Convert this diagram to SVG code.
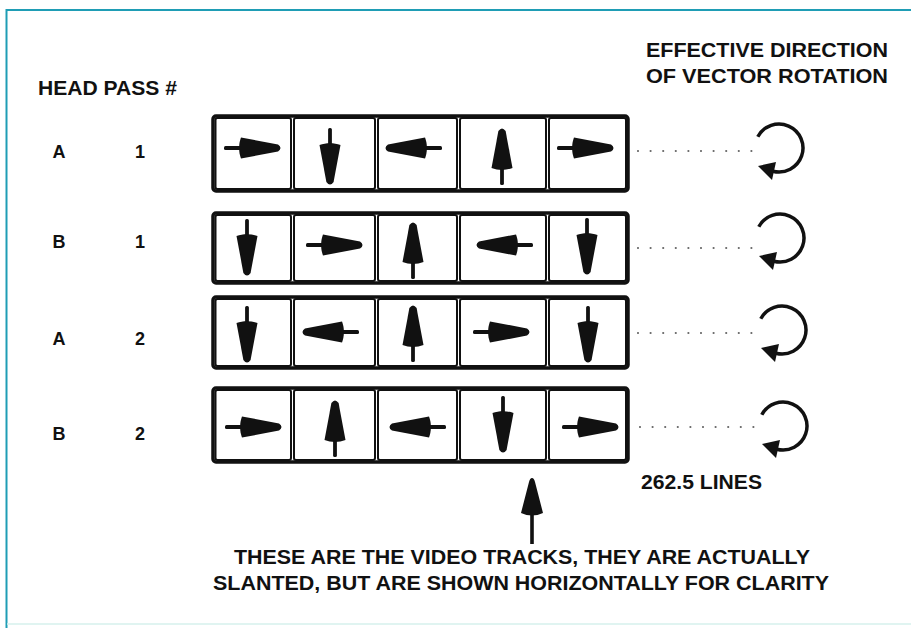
<svg xmlns="http://www.w3.org/2000/svg" xmlns:xlink="http://www.w3.org/1999/xlink" width="911" height="628" viewBox="0 0 911 628">
<style>
.t{font-family:"Liberation Sans",Arial,sans-serif;font-weight:bold;fill:#111;}
.h{font-size:20px;}
.lab{font-size:18px;text-anchor:middle;}
.frame{fill:none;stroke:#111;stroke-width:3.5;}
.cell{fill:#fff;stroke:#111;stroke-width:2;}
.dots{fill:none;stroke:#666;stroke-width:2.2;stroke-linecap:round;stroke-dasharray:0 12.6;}
.rot{fill:none;stroke:#111;stroke-width:3.5;}
</style>
<defs>
<g id="arr">
<rect x="-29" y="-1.9" width="20" height="3.8" rx="1.5" fill="#111"/>
<path d="M -12 -10.5 C -14.5 -4 -14.5 4 -12 10.5 L 25 3.6 Q 30 0 25 -3.6 Z" fill="#111"/>
</g>
<g id="rotg">
<path class="rot" d="M -21.2 -11.3 A 24 24 0 1 1 -6.2 23.2"/>
<path d="M -21 18 L -3 14 L -7 32 Z" fill="#111"/>
</g>
</defs>
<rect x="0" y="0" width="911" height="628" fill="#fff"/>
<g id="border">
<line x1="6.5" y1="10" x2="911" y2="10" stroke="#1f9db5" stroke-width="2"/>
<line x1="6.5" y1="9" x2="6.5" y2="628" stroke="#1f9db5" stroke-width="2"/>
<line x1="7" y1="624" x2="911" y2="624" stroke="#d6f0ec" stroke-width="1.5"/>
</g>
<g id="headers">
<text class="t h" x="38" y="95" textLength="139" lengthAdjust="spacingAndGlyphs">HEAD PASS #</text>
<text class="t h" x="646" y="57" textLength="242" lengthAdjust="spacingAndGlyphs">EFFECTIVE DIRECTION</text>
<text class="t h" x="646" y="83" textLength="242" lengthAdjust="spacingAndGlyphs">OF VECTOR ROTATION</text>
</g>
<g id="labels">
<text class="t lab" x="59" y="158">A</text><text class="t lab" x="140" y="158">1</text>
<text class="t lab" x="59" y="248">B</text><text class="t lab" x="140" y="248">1</text>
<text class="t lab" x="59" y="345">A</text><text class="t lab" x="140" y="345">2</text>
<text class="t lab" x="59" y="440">B</text><text class="t lab" x="140" y="440">2</text>
</g>
<g id="row1">
<rect class="cell" x="215.5" y="118" width="75.5" height="71" rx="2"/>
<rect class="cell" x="294" y="118" width="81" height="71" rx="2"/>
<rect class="cell" x="378" y="118" width="79" height="71" rx="2"/>
<rect class="cell" x="460" y="118" width="86" height="71" rx="2"/>
<rect class="cell" x="549" y="118" width="77" height="71" rx="2"/>
<rect class="frame" x="213" y="116" width="415" height="75" rx="3"/>
<use xlink:href="#arr" href="#arr" transform="translate(253,148)"/>
<use xlink:href="#arr" href="#arr" transform="translate(330,157) rotate(90)"/>
<use xlink:href="#arr" href="#arr" transform="translate(413,148) rotate(180)"/>
<use xlink:href="#arr" href="#arr" transform="translate(502,156) rotate(-90)"/>
<use xlink:href="#arr" href="#arr" transform="translate(586,148)"/>
</g>
<g id="row2">
<rect class="cell" x="215.5" y="215" width="75.5" height="66" rx="2"/>
<rect class="cell" x="294" y="215" width="81" height="66" rx="2"/>
<rect class="cell" x="378" y="215" width="79" height="66" rx="2"/>
<rect class="cell" x="460" y="215" width="86" height="66" rx="2"/>
<rect class="cell" x="549" y="215" width="77" height="66" rx="2"/>
<rect class="frame" x="213" y="213" width="415" height="70" rx="3"/>
<use xlink:href="#arr" href="#arr" transform="translate(247,248) rotate(90)"/>
<use xlink:href="#arr" href="#arr" transform="translate(335,245)"/>
<use xlink:href="#arr" href="#arr" transform="translate(413,250) rotate(-90)"/>
<use xlink:href="#arr" href="#arr" transform="translate(504,245) rotate(180)"/>
<use xlink:href="#arr" href="#arr" transform="translate(587,247) rotate(90)"/>
</g>
<g id="row3">
<rect class="cell" x="215.5" y="299" width="75.5" height="67" rx="2"/>
<rect class="cell" x="294" y="299" width="81" height="67" rx="2"/>
<rect class="cell" x="378" y="299" width="79" height="67" rx="2"/>
<rect class="cell" x="460" y="299" width="86" height="67" rx="2"/>
<rect class="cell" x="549" y="299" width="77" height="67" rx="2"/>
<rect class="frame" x="213" y="297" width="415" height="71" rx="3"/>
<use xlink:href="#arr" href="#arr" transform="translate(247,335) rotate(90)"/>
<use xlink:href="#arr" href="#arr" transform="translate(330,332) rotate(180)"/>
<use xlink:href="#arr" href="#arr" transform="translate(413,333) rotate(-90)"/>
<use xlink:href="#arr" href="#arr" transform="translate(502,332)"/>
<use xlink:href="#arr" href="#arr" transform="translate(588,335) rotate(90)"/>
</g>
<g id="row4">
<rect class="cell" x="215.5" y="390" width="75.5" height="70" rx="2"/>
<rect class="cell" x="294" y="390" width="81" height="70" rx="2"/>
<rect class="cell" x="378" y="390" width="79" height="70" rx="2"/>
<rect class="cell" x="460" y="390" width="86" height="70" rx="2"/>
<rect class="cell" x="549" y="390" width="77" height="70" rx="2"/>
<rect class="frame" x="213" y="388" width="415" height="74" rx="3"/>
<use xlink:href="#arr" href="#arr" transform="translate(254,427)"/>
<use xlink:href="#arr" href="#arr" transform="translate(335,428) rotate(-90)"/>
<use xlink:href="#arr" href="#arr" transform="translate(417,427) rotate(180)"/>
<use xlink:href="#arr" href="#arr" transform="translate(503,425) rotate(90)"/>
<use xlink:href="#arr" href="#arr" transform="translate(591,427)"/>
</g>
<g id="rotations">
<use xlink:href="#rotg" href="#rotg" transform="translate(779,148)"/>
<use xlink:href="#rotg" href="#rotg" transform="translate(780,238)"/>
<use xlink:href="#rotg" href="#rotg" transform="translate(782,330)"/>
<use xlink:href="#rotg" href="#rotg" transform="translate(783,426)"/>
</g>
<g id="connectors">
<line class="dots" x1="638" y1="151" x2="754" y2="151"/>
<line class="dots" x1="638" y1="248" x2="754" y2="248"/>
<line class="dots" x1="638" y1="333" x2="754" y2="333"/>
<line class="dots" x1="640" y1="427" x2="756" y2="427"/>
<g id="pointer">
<rect x="530.2" y="510" width="3.6" height="34" fill="#111"/>
<path d="M 532 478 Q 534 478 535 482 L 543 513 Q 532 518 521 513 L 529 482 Q 530 478 532 478 Z" fill="#111"/>
</g>
</g>
<g id="notes">
<text class="t h" x="641" y="489" textLength="121" lengthAdjust="spacingAndGlyphs">262.5 LINES</text>
<text class="t h" x="522" y="564" text-anchor="middle" textLength="576" lengthAdjust="spacingAndGlyphs">THESE ARE THE VIDEO TRACKS, THEY ARE ACTUALLY</text>
<text class="t h" x="521" y="590" text-anchor="middle" textLength="616" lengthAdjust="spacingAndGlyphs">SLANTED, BUT ARE SHOWN HORIZONTALLY FOR CLARITY</text>
</g>
</svg>
